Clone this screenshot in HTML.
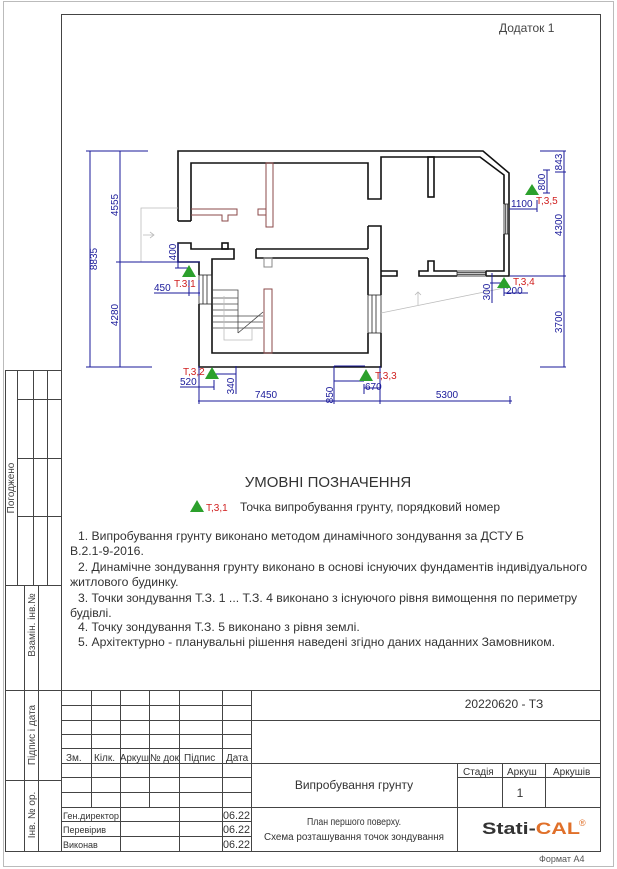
<!DOCTYPE html>
<html><head><meta charset="utf-8"><style>
html,body{margin:0;padding:0;background:#fff}
svg{display:block}
text{font-family:"Liberation Sans",sans-serif}
</style></head><body>
<svg width="617" height="869" viewBox="0 0 617 869" xmlns="http://www.w3.org/2000/svg">
<rect x="0" y="0" width="617" height="869" fill="#fff"/>
<rect x="3.5" y="1.5" width="610" height="865" fill="none" stroke="#bbb" stroke-width="1"/>
<rect x="61.5" y="14.5" width="539" height="837" fill="none" stroke="#444" stroke-width="1"/>
<text x="499" y="32" font-size="12" fill="#444">Додаток 1</text>

<g stroke="#444" stroke-width="1" fill="none">
<rect x="5.5" y="370.5" width="56" height="481"/>
<line x1="17.5" y1="370" x2="17.5" y2="585"/>
<line x1="33.5" y1="370" x2="33.5" y2="585"/>
<line x1="47.5" y1="370" x2="47.5" y2="585"/>
<line x1="17" y1="399.5" x2="62" y2="399.5"/>
<line x1="17" y1="458.5" x2="62" y2="458.5"/>
<line x1="17" y1="516.5" x2="62" y2="516.5"/>
<line x1="5" y1="585.5" x2="62" y2="585.5"/>
<line x1="5" y1="690.5" x2="62" y2="690.5"/>
<line x1="5" y1="780.5" x2="62" y2="780.5"/>
<line x1="24.5" y1="585" x2="24.5" y2="851"/>
<line x1="38.5" y1="585" x2="38.5" y2="851"/>
</g>
<text transform="translate(14,488) rotate(-90)" font-size="10" fill="#444" text-anchor="middle">Погоджено</text>
<text transform="translate(35,625) rotate(-90)" font-size="10" fill="#444" text-anchor="middle">Взамін. інв.№</text>
<text transform="translate(35,735) rotate(-90)" font-size="10" fill="#444" text-anchor="middle">Підпис і дата</text>
<text transform="translate(35,815) rotate(-90)" font-size="10" fill="#444" text-anchor="middle">Інв. № ор.</text>

<g stroke="#444" stroke-width="1" fill="none">
<line x1="61" y1="690.5" x2="601" y2="690.5"/>
<line x1="62" y1="705.5" x2="251" y2="705.5"/>
<line x1="62" y1="720.5" x2="601" y2="720.5"/>
<line x1="62" y1="734.5" x2="251" y2="734.5"/>
<line x1="62" y1="748.5" x2="251" y2="748.5"/>
<line x1="62" y1="763.5" x2="601" y2="763.5"/>
<line x1="62" y1="777.5" x2="251" y2="777.5"/>
<line x1="457" y1="777.5" x2="601" y2="777.5"/>
<line x1="62" y1="792.5" x2="251" y2="792.5"/>
<line x1="62" y1="807.5" x2="601" y2="807.5"/>
<line x1="62" y1="821.5" x2="251" y2="821.5"/>
<line x1="62" y1="836.5" x2="251" y2="836.5"/>
<line x1="91.5" y1="690" x2="91.5" y2="807"/>
<line x1="120.5" y1="690" x2="120.5" y2="851"/>
<line x1="149.5" y1="690" x2="149.5" y2="807"/>
<line x1="179.5" y1="690" x2="179.5" y2="851"/>
<line x1="222.5" y1="690" x2="222.5" y2="851"/>
<line x1="251.5" y1="690" x2="251.5" y2="851"/>
<line x1="457.5" y1="763" x2="457.5" y2="851"/>
<line x1="502.5" y1="763" x2="502.5" y2="807"/>
<line x1="545.5" y1="763" x2="545.5" y2="807"/>
</g>
<g font-size="10" fill="#333">
<text x="66" y="761">Зм.</text>
<text x="94" y="761">Кілк.</text>
<text x="120" y="761" textLength="29" lengthAdjust="spacingAndGlyphs">Аркуш</text>
<text x="150" y="761" textLength="29" lengthAdjust="spacingAndGlyphs">№ док</text>
<text x="184" y="761">Підпис</text>
<text x="226" y="761">Дата</text>
<text x="63" y="819" font-size="9" textLength="56" lengthAdjust="spacingAndGlyphs">Ген.директор</text>
<text x="63" y="833" font-size="9">Перевірив</text>
<text x="63" y="848" font-size="9">Виконав</text>
<text x="223" y="819" font-size="11" textLength="27" lengthAdjust="spacingAndGlyphs">06.22</text>
<text x="223" y="833" font-size="11" textLength="27" lengthAdjust="spacingAndGlyphs">06.22</text>
<text x="223" y="848" font-size="11" textLength="27" lengthAdjust="spacingAndGlyphs">06.22</text>
<text x="463" y="775">Стадія</text>
<text x="507" y="775">Аркуш</text>
<text x="553" y="775">Аркушів</text>
<text x="520" y="797" font-size="12" text-anchor="middle">1</text>
<text x="504" y="708" font-size="12" text-anchor="middle">20220620 - ТЗ</text>
<text x="354" y="789" font-size="12" text-anchor="middle">Випробування грунту</text>
<text x="354" y="825" font-size="10" text-anchor="middle" textLength="94" lengthAdjust="spacingAndGlyphs">План першого поверху.</text>
<text x="354" y="840" font-size="10" text-anchor="middle" textLength="180" lengthAdjust="spacingAndGlyphs">Схема розташування точок зондування</text>
<text x="482" y="834" font-size="17" font-weight="bold" fill="#333" textLength="98" lengthAdjust="spacingAndGlyphs">Stati-<tspan fill="#e0702a">CAL</tspan></text>
<text x="579" y="826" font-size="9" fill="#e0702a">®</text>
<text x="539" y="862" font-size="9" fill="#555">Формат А4</text>
</g>

<g stroke="#111" stroke-width="1.6" fill="none" stroke-linejoin="miter">
<polyline points="178,221 178,151 483,151 509,173 509,276 486,276"/>
<polyline points="191,221 191,163 368,163 368,199 381,199 381,157 480,157 504,175 504,204"/>
<line x1="178" y1="221" x2="191" y2="221"/>
<polyline points="504,234 504,271 486,271"/>
<line x1="486" y1="271" x2="486" y2="276"/>
<rect x="428" y="157" width="6" height="40"/>
<polyline points="457,271 434,271 434,261 428,261 428,271 419,271 419,276 457,276"/>
<polyline points="381,271 397,271 397,276 381,276"/>
<polyline points="368,226 381,226 381,295"/>
<polyline points="368,226 368,249"/>
<polyline points="381,333 381,367 199,367 199,304"/>
<polyline points="368,258 368,295"/>
<polyline points="368,333 368,353 212,353 212,259 234,259 234,249 191,249 191,243 178,243 178,262 199,262 199,275"/>
<polyline points="256,249 368,249"/>
<polyline points="256,249 256,258 368,258"/>
<rect x="222" y="243" width="6" height="6"/>
<rect x="264" y="258" width="8" height="9" stroke="#888" stroke-width="1"/>
</g>
<g stroke="#222" stroke-width="0.8" fill="none">
<rect x="504" y="204" width="5" height="30"/><line x1="505.7" y1="204" x2="505.7" y2="234"/><line x1="507.3" y1="204" x2="507.3" y2="234"/>
<rect x="457" y="271" width="29" height="5"/><line x1="457" y1="272.7" x2="486" y2="272.7"/><line x1="457" y1="274.3" x2="486" y2="274.3"/>
<rect x="368" y="295" width="13" height="38"/><line x1="372" y1="295" x2="372" y2="333"/><line x1="376" y1="295" x2="376" y2="333"/>
<rect x="199" y="275" width="13" height="29"/><line x1="203" y1="275" x2="203" y2="304"/><line x1="207" y1="275" x2="207" y2="304"/>
</g>
<g stroke="#8b4a4a" stroke-width="1" fill="none">
<rect x="266" y="163" width="7" height="64"/>
<polyline points="191,209 237,209 237,215 228,215 228,221 222,221 222,215 191,215"/>
<polyline points="266,209 258,209 258,215 266,215"/>
<rect x="264" y="289" width="8" height="64"/>
</g>
<g stroke="#444" stroke-width="0.8" fill="none">
<polyline points="212,290 238,290 238,333"/>
<line x1="212" y1="298" x2="238" y2="298"/>
<line x1="212" y1="304" x2="238" y2="304"/>
<line x1="212" y1="310" x2="238" y2="310"/>
<line x1="212" y1="316" x2="263" y2="316"/>
<line x1="212" y1="322" x2="263" y2="322"/>
<line x1="212" y1="328" x2="263" y2="328"/>
<line x1="238" y1="333" x2="263" y2="312"/>
</g>
<g stroke="#bbb" stroke-width="0.8" fill="none">
<polyline points="224,296 224,340 252,340 252,328"/>
<polyline points="141,262 141,208 178,208"/>
<line x1="141" y1="262" x2="178" y2="262"/>
<line x1="143" y1="235" x2="154" y2="235"/><polyline points="150,232 154,235 150,238"/>
<line x1="381" y1="313" x2="504" y2="288"/>
<line x1="418" y1="292" x2="418" y2="305"/><polyline points="415,295 418,292 421,295"/>
</g>

<g stroke="#1a1a9a" stroke-width="1" fill="none">
<line x1="90" y1="151" x2="90" y2="367"/>
<line x1="120" y1="151" x2="120" y2="367"/>
<line x1="86" y1="151" x2="148" y2="151"/>
<line x1="116" y1="262" x2="200" y2="262"/>
<line x1="86" y1="367" x2="152" y2="367"/>
<line x1="178" y1="243" x2="178" y2="268"/>
<line x1="175" y1="268" x2="189" y2="268"/>
<line x1="154" y1="293" x2="200" y2="293"/>
<line x1="189" y1="280" x2="189" y2="296"/>
<line x1="199" y1="280" x2="199" y2="296"/>
<line x1="198" y1="401" x2="512" y2="401"/>
<line x1="199" y1="366" x2="199" y2="404"/>
<line x1="380" y1="366" x2="380" y2="404"/>
<line x1="510" y1="396" x2="510" y2="404"/>
<line x1="334" y1="366" x2="334" y2="404"/>
<line x1="334" y1="366" x2="365" y2="366"/>
<line x1="334" y1="381" x2="364" y2="381"/>
<line x1="364" y1="388" x2="380" y2="388"/>
<line x1="364" y1="384" x2="364" y2="394"/>
<line x1="236" y1="366" x2="236" y2="394"/>
<line x1="214" y1="374" x2="236" y2="374"/>
<line x1="180" y1="387" x2="214" y2="387"/>
<line x1="214" y1="380" x2="214" y2="390"/>
<line x1="564" y1="151" x2="564" y2="367"/>
<line x1="540" y1="151" x2="566" y2="151"/>
<line x1="555" y1="172" x2="566" y2="172"/>
<line x1="510" y1="276" x2="566" y2="276"/>
<line x1="540" y1="367" x2="566" y2="367"/>
<line x1="547" y1="170" x2="547" y2="193"/>
<line x1="543" y1="170" x2="550" y2="170"/>
<line x1="543" y1="193" x2="550" y2="193"/>
<line x1="509" y1="209" x2="537" y2="209"/>
<line x1="537" y1="200" x2="537" y2="212"/>
<line x1="492" y1="273" x2="492" y2="303"/>
<line x1="490" y1="283" x2="504" y2="283"/>
<line x1="504" y1="288" x2="504" y2="296"/>
<line x1="504" y1="293" x2="528" y2="293"/>
</g>
<g font-size="10" fill="#1a1a9a">
<text transform="translate(97,259) rotate(-90)" text-anchor="middle">8835</text>
<text transform="translate(118,205) rotate(-90)" text-anchor="middle">4555</text>
<text transform="translate(118,315) rotate(-90)" text-anchor="middle">4280</text>
<text transform="translate(176,252) rotate(-90)" text-anchor="middle">400</text>
<text x="154" y="291">450</text>
<text x="180" y="385">520</text>
<text transform="translate(234,386) rotate(-90)" text-anchor="middle">340</text>
<text x="266" y="398" text-anchor="middle">7450</text>
<text transform="translate(333,395) rotate(-90)" text-anchor="middle">850</text>
<text x="365" y="390">670</text>
<text x="447" y="398" text-anchor="middle">5300</text>
<text transform="translate(562,162) rotate(-90)" text-anchor="middle">843</text>
<text transform="translate(545,182) rotate(-90)" text-anchor="middle">800</text>
<text x="511" y="207">1100</text>
<text transform="translate(562,225) rotate(-90)" text-anchor="middle">4300</text>
<text transform="translate(490,292) rotate(-90)" text-anchor="middle">300</text>
<text x="506" y="294">200</text>
<text transform="translate(562,322) rotate(-90)" text-anchor="middle">3700</text>
</g>
<g fill="#2ca02c">
<polygon points="189,265 182,277 196,277"/>
<polygon points="212,367 205,379 219,379"/>
<polygon points="366,369 359,381 373,381"/>
<polygon points="504,277 497,288 511,288"/>
<polygon points="532,184 525,195 539,195"/>
<polygon points="197,500 190,512 204,512"/>
</g>
<g font-size="10" fill="#d02020">
<text x="174" y="287">Т.3.1</text>
<text x="183" y="375">Т,3,2</text>
<text x="375" y="379">Т,3,3</text>
<text x="513" y="285">Т,3,4</text>
<text x="536" y="204">Т,3,5</text>
<text x="206" y="511">Т,3,1</text>
</g>

<text x="328" y="487" font-size="15" fill="#333" text-anchor="middle">УМОВНІ ПОЗНАЧЕННЯ</text>
<text x="240" y="511" font-size="12" fill="#333">Точка випробування грунту, порядковий номер</text>
<g font-size="12.2" fill="#333">
<text x="78" y="540">1.  Випробування грунту виконано методом динамічного зондування за ДСТУ Б</text>
<text x="70" y="555">В.2.1-9-2016.</text>
<text x="78" y="571">2. Динамічне зондування грунту виконано в основі існуючих фундаментів індивідуального</text>
<text x="70" y="586">житлового будинку.</text>
<text x="78" y="602">3. Точки зондування Т.З. 1 ... Т.З. 4 виконано з існуючого рівня вимощення по периметру</text>
<text x="70" y="617">будівлі.</text>
<text x="78" y="631">4. Точку зондування Т.З. 5 виконано з рівня землі.</text>
<text x="78" y="646">5. Архітектурно - планувальні рішення наведені згідно даних наданних Замовником.</text>
</g>
</svg>
</body></html>
